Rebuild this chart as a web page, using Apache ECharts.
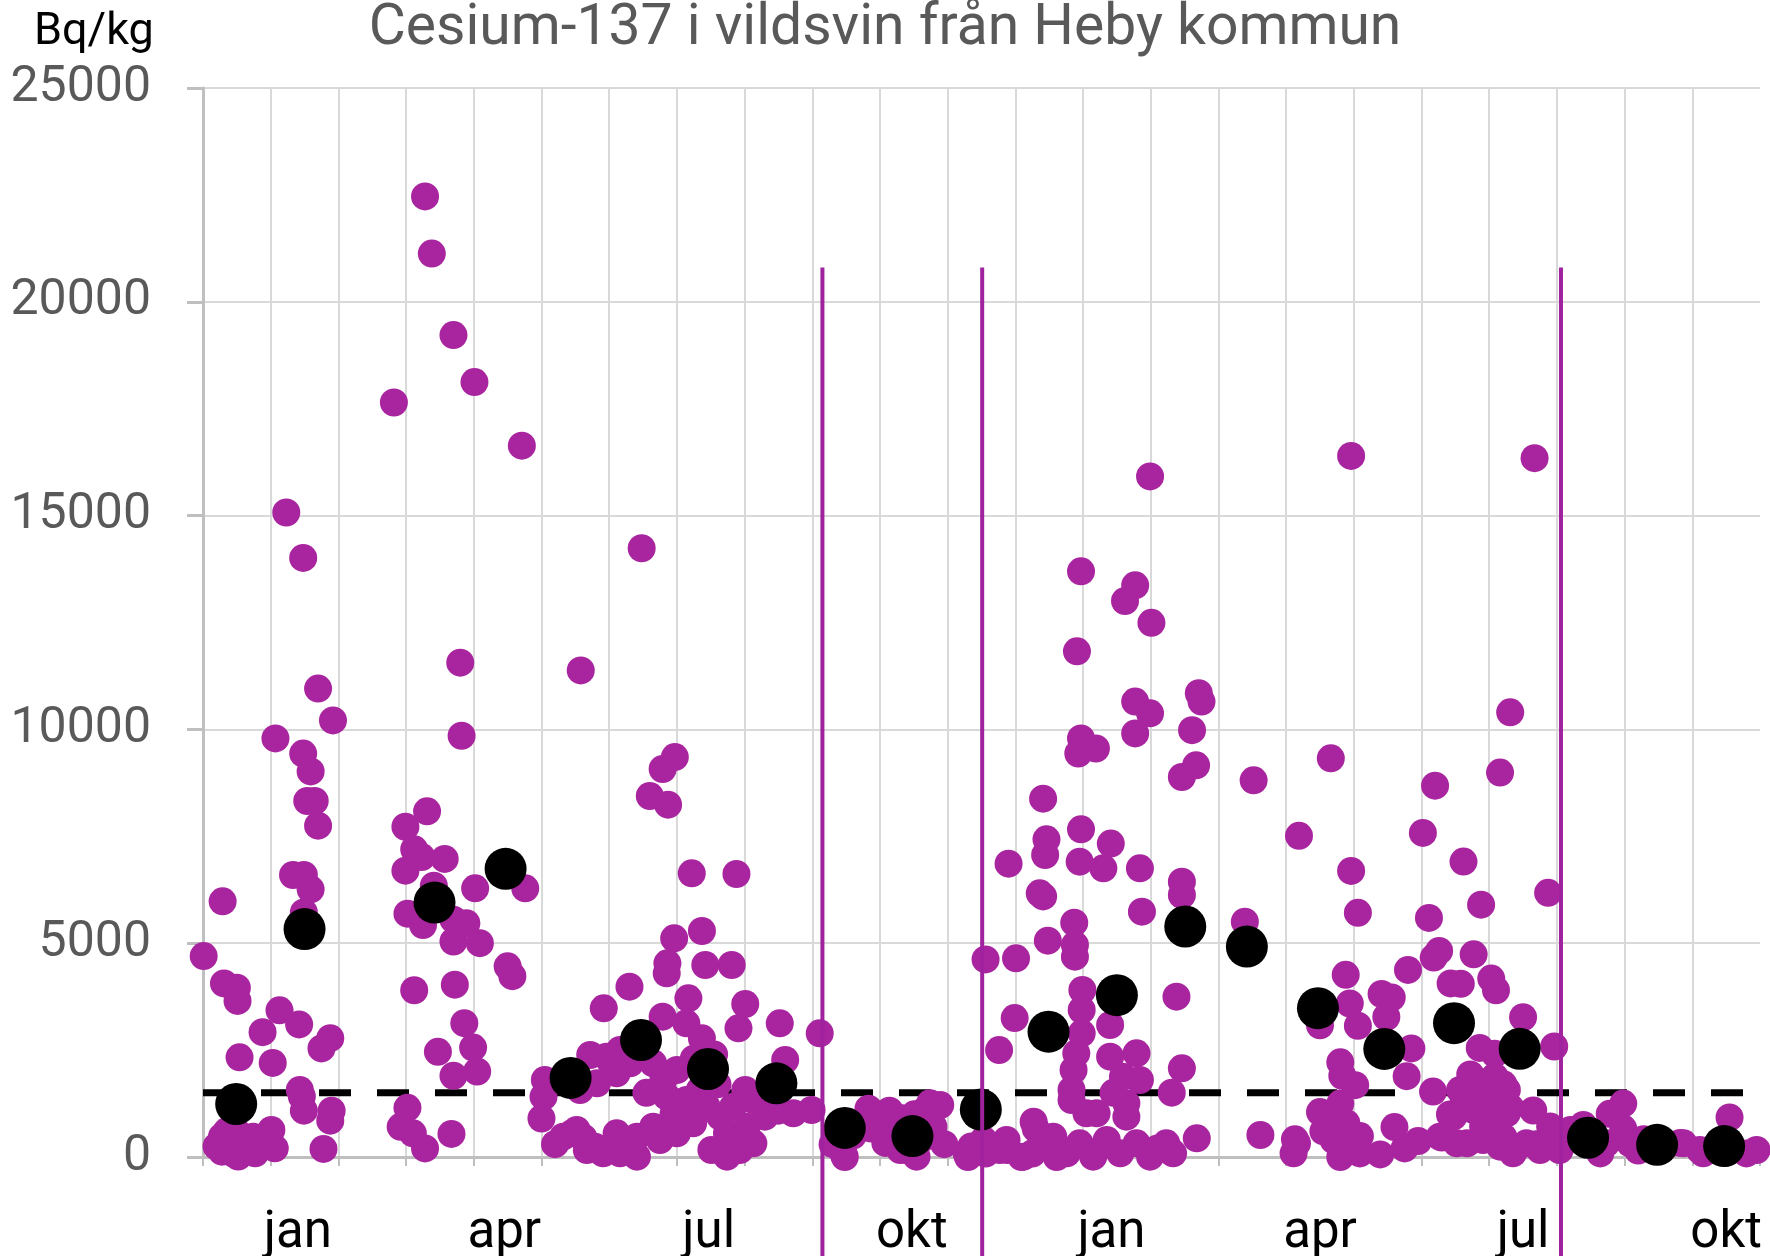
<!DOCTYPE html>
<html>
<head>
<meta charset="utf-8">
<title>Cesium-137 i vildsvin</title>
<script src="https://cdn.jsdelivr.net/npm/echarts@6/dist/echarts.min.js"></script>
<style>
  html, body { margin: 0; padding: 0; background: #fff; }
  #chart { width: 1770px; height: 1256px; }
</style>
</head>
<body>
<div id="chart"></div>
<script>
// x = months from the first gridline (one gridline per month), y = Bq/kg
var samples = [
  [0.01,4700],[0.29,5980],[0.31,4060],[0.50,3960],[0.51,3650],[0.88,2920],[0.54,2330],[0.28,475],[0.52,554],[0.74,475],
  [0.28,124],[0.52,10],[0.77,87],[0.42,320],[0.87,241],[0.35,600],[0.62,300],[0.95,420],[0.60,150],[0.20,250],[0.45,80],
  [1.01,631],[1.06,203],[1.03,2200],[1.07,9790],[1.23,15072],[1.48,14011],[1.48,9434],[1.59,9018],[1.54,8325],[1.65,8325],
  [1.70,7748],[1.92,10210],[1.70,10954],[1.33,6595],[1.49,6595],[1.59,6260],[1.49,5718],[1.13,3430],[1.42,3100],[1.75,2540],
  [1.88,2780],[1.43,1567],[1.46,1417],[1.49,1083],[1.90,1083],[1.88,850],[1.78,190],
  [2.82,17645],[2.99,7723],[2.99,6695],[2.92,706],
  [3.28,22464],[3.38,21127],[3.70,19223],[3.80,11560],[3.82,9852],[3.31,8083],[3.12,7196],[3.23,7013],[3.57,6971],[3.41,6344],
  [3.02,5690],[3.25,5426],[3.70,5550],[3.89,5466],[3.70,5040],[3.12,3900],[3.72,4030],[3.86,3130],[3.47,2460],[3.99,2560],
  [3.70,1900],[3.02,1150],[3.10,554],[3.28,200],[3.67,540],
  [4.01,18122],[4.71,16636],[4.02,6284],[4.76,6284],[4.09,5000],[4.50,4460],[4.57,4230],[4.05,2000],
  [5.58,11380],[5.05,1801],[5.03,1410],[5.00,900],[5.92,3477],[5.72,2385],[5.96,2346],[5.82,1724],[5.57,1567],[5.32,475],
  [5.52,631],[5.67,164],[5.91,87],[5.45,554],[5.79,241],[5.20,300],[5.62,450],
  [6.48,14237],[6.97,9352],[6.79,9074],[6.60,8442],[6.87,8240],[6.96,5114],[6.86,4530],[6.85,4296],[6.30,3983],[6.79,3281],
  [6.16,2502],[6.31,2191],[6.11,1957],[6.65,2191],[6.80,1801],[6.85,1410],[6.11,554],[6.16,87],[6.41,475],[6.41,7],
  [6.65,709],[6.75,398],[6.03,2200],[6.55,1500],[6.95,1000],[6.30,300],
  [7.22,6635],[7.88,6618],[7.37,5285],[7.42,4490],[7.81,4490],[7.17,3711],[7.91,3010],[7.14,3127],[7.37,2776],[7.00,2035],
  [7.14,1333],[7.34,1567],[7.44,1176],[7.64,942],[7.83,1176],[7.74,554],[7.00,554],[7.05,942],[7.24,788],[7.51,164],
  [7.74,7],[7.93,164],[7.55,2400],[7.25,2300],[7.60,1700],
  [8.01,3578],[8.52,3127],[8.60,2268],[8.01,1567],[8.03,709],[8.13,320],[8.30,942],[8.72,1022],[8.99,1099],[8.13,1333],[8.50,1083],
  [9.11,2893],[9.46,87],[9.48,0],[9.30,300],[9.60,500],[9.83,1130],[9.87,664],[9.99,970],
  [10.08,330],[10.10,475],[10.14,1083],[10.30,914],[10.30,164],[10.39,164],[10.51,999],[10.51,80],[10.54,7],[10.66,1083],
  [10.74,1256],[10.79,709],[10.89,1216],[10.60,400],[10.95,300],
  [11.30,0],[11.56,4620],[11.76,2500],[11.90,6860],[11.99,3250],[11.35,248],[11.56,80],[11.72,248],[11.88,164],[11.28,87],
  [11.53,398],[11.77,164],[11.87,398],
  [12.01,4647],[12.44,7063],[12.46,7430],[12.41,8380],[12.36,6167],[12.41,6094],[12.48,5060],[12.88,4958],[12.88,4684],[12.87,5480],
  [12.95,6906],[12.91,11826],[12.97,13697],[12.97,9787],[12.93,9436],[12.97,7664],[12.99,3905],[12.98,3438],[12.98,2893],[12.90,2425],
  [12.86,2035],[12.83,1567],[12.83,1333],[12.27,826],[12.30,664],[12.12,7],[12.09,0],[12.25,80],[12.36,241],[12.56,475],
  [12.76,87],[12.95,320],[12.61,0],
  [13.30,6752],[13.84,6752],[13.87,5737],[13.41,7329],[13.19,9553],[13.77,13370],[13.62,13003],[13.99,15916],[14.01,12493],[13.77,10650],
  [13.99,10376],[13.77,9906],[13.40,3087],[13.05,1022],[13.20,1022],[13.40,2346],[13.79,2425],[13.59,1878],[13.84,1801],[13.64,1256],
  [13.64,942],[13.15,7],[13.35,398],[13.55,87],[13.79,320],[13.99,7],[13.45,1500],
  [14.46,6438],[14.46,6127],[14.71,10846],[14.75,10650],[14.61,9983],[14.67,9160],[14.46,8887],[14.38,3749],[14.46,2074],[14.31,1504],
  [14.68,437],[14.23,320],[14.33,87],[14.10,200],
  [15.39,5503],[15.52,8809],[15.62,514],
  [16.11,87],[16.16,320],[16.13,414],[16.96,16395],[16.66,9323],[16.19,7511],[16.96,6690],[17.06,5710],[16.88,4260],[16.94,3590],
  [17.06,3070],[16.50,3080],[16.80,2215],[16.83,1900],[17.02,1680],[16.50,1050],[16.80,1250],[16.70,398],[16.80,0],[16.99,164],
  [16.80,414],[16.89,790],[16.80,788],[16.89,164],[16.55,600],
  [17.09,490],[17.09,84],[17.39,60],[17.41,3812],[17.56,3730],[17.48,3274],[17.85,2540],[17.80,4376],[17.78,1890],[17.95,374],
  [17.60,700],[17.75,200],
  [18.02,7580],[18.20,8683],[18.62,6910],[18.11,5590],[18.88,5900],[18.77,4740],[18.26,4820],[18.18,4665],[18.43,4060],[18.58,4050],
  [18.86,2550],[18.72,1930],[18.92,1742],[18.17,1530],[18.42,994],[18.62,1244],[18.86,1326],[18.52,320],[18.91,711],[18.30,456],
  [18.57,1567],[18.47,942],[18.77,1099],[18.67,320],[18.91,398],[18.27,475],[18.86,1410],
  [19.31,10400],[19.67,16342],[19.16,8990],[19.87,6178],[19.03,4172],[19.10,3900],[19.50,3268],[19.96,2584],[19.08,2415],[19.21,1700],
  [19.11,1244],[19.31,1160],[19.65,1088],[19.21,463],[19.40,215],[19.70,297],[19.90,711],[19.26,1567],[19.08,1878],[19.01,942],
  [19.26,1022],[19.16,241],[19.35,87],[19.55,320],[19.75,164],[19.95,554],
  [20.10,379],[20.04,164],[20.20,631],[20.39,748],[20.59,398],[20.64,84],[20.73,320],[20.78,1010],[20.98,1250],[20.98,664],
  [21.08,320],[21.28,414],[21.43,164],[21.60,250],[21.82,330],[21.87,320],[22.11,164],[22.16,87],[22.30,200],[22.55,926],
  [22.80,84],[22.95,164],[22.50,100],[21.20,150]
];

// monthly means (black dots)
var monthlyMeans = [
  [0.49,1240],[1.50,5330],[3.42,5950],[4.47,6740],[5.43,1850],[6.47,2736],[7.46,2058],[8.47,1724],[9.48,680],[10.48,490],
  [11.49,1110],[12.49,2930],[13.50,3785],[14.51,5390],[15.42,4920],[16.47,3480],[17.45,2527],[18.48,3130],[19.45,2530],[20.46,450],
  [21.48,285],[22.47,255]
];

var limitValue = 1500;
var seasonBreaks = [9.15, 11.51, 20.06];
var breakTop = 20800;

var monthCount = 23;
var labelPositions = [1.4, 4.45, 7.47, 10.47, 13.42, 16.5, 19.5, 22.5];
var labelNames = ['jan', 'apr', 'jul', 'okt', 'jan', 'apr', 'jul', 'okt'];

var purple = '#A9259F';
var chart = echarts.init(document.getElementById('chart'));

chart.setOption({
  animation: false,
  backgroundColor: '#fff',
  title: [{
    text: 'Cesium-137 i vildsvin från Heby kommun',
    left: 'center',
    top: -4,
    textStyle: { fontFamily: 'Roboto', fontSize: 57, fontWeight: 'normal', color: '#595959' }
  }, {
    text: 'Bq/kg',
    left: 29,
    top: 5,
    textStyle: { fontFamily: 'Roboto', fontSize: 45, fontWeight: 'normal', color: '#000' }
  }],
  grid: { left: 203, right: 10, top: 88, bottom: 99, outerBoundsMode: 'none' },
  xAxis: {
    type: 'value',
    min: 0,
    max: monthCount,
    interval: 1,
    axisLine: { show: true, onZero: false, lineStyle: { color: '#bfbfbf', width: 3 } },
    axisTick: { show: true, length: 9, lineStyle: { color: '#bfbfbf', width: 2 } },
    splitLine: { show: true, showMaxLine: false, lineStyle: { color: '#d9d9d9', width: 2 } },
    axisLabel: {
      customValues: labelPositions,
      margin: 52,
      fontFamily: 'Roboto',
      fontSize: 51,
      color: '#000',
      formatter: function (v) {
        var best = 0;
        for (var i = 1; i < labelPositions.length; i++) {
          if (Math.abs(labelPositions[i] - v) < Math.abs(labelPositions[best] - v)) best = i;
        }
        return labelNames[best];
      }
    }
  },
  yAxis: {
    type: 'value',
    min: 0,
    max: 25000,
    interval: 5000,
    axisLine: { show: true, lineStyle: { color: '#bfbfbf', width: 3 } },
    axisTick: { show: true, length: 16, lineStyle: { color: '#bfbfbf', width: 3 } },
    splitLine: { show: true, lineStyle: { color: '#d9d9d9', width: 2 } },
    axisLabel: {
      margin: 52, fontFamily: 'Roboto', fontSize: 50, color: '#595959',
      formatter: function (v) { return String(v); }
    }
  },
  series: [{
    type: 'line',
    data: [[0, limitValue], [monthCount, limitValue]],
    symbol: 'none',
    z: 1,
    lineStyle: { color: '#000', width: 7, type: [32, 26] }
  }, {
    type: 'scatter',
    data: samples,
    clip: false,
    symbolSize: 28,
    z: 3,
    itemStyle: { color: purple, opacity: 1 }
  }, {
    type: 'scatter',
    data: monthlyMeans,
    clip: false,
    symbolSize: 42,
    z: 4,
    itemStyle: { color: '#000', opacity: 1 }
  }, {
    type: 'custom',
    z: 5,
    data: seasonBreaks.map(function (x) { return [x, breakTop]; }),
    renderItem: function (params, api) {
      var top = api.coord([api.value(0), api.value(1)]);
      return {
        type: 'line',
        shape: { x1: top[0], y1: top[1], x2: top[0], y2: api.getHeight() },
        style: { stroke: '#A0229E', lineWidth: 4 }
      };
    }
  }]
});
</script>
</body>
</html>
